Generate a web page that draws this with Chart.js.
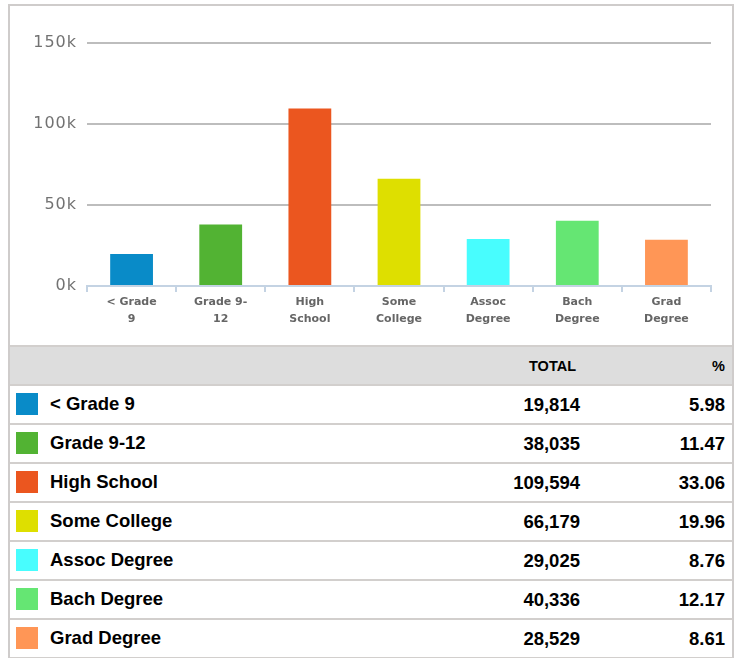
<!DOCTYPE html>
<html>
<head>
<meta charset="utf-8">
<script src="https://cdn.jsdelivr.net/npm/chart.js@4"></script>
<style>
  body { margin: 0; background: #fff; }
  #panel {
    position: absolute; left: 8px; top: 4px; width: 722px;
    border: 2px solid #cfcccb; border-bottom: none;
  }
  #chartBox { position: relative; width: 722px; height: 339px; }
  table { width: 722px; border-collapse: collapse; table-layout: fixed;
          font-family: "Liberation Sans", Arial, sans-serif; font-weight: bold; color: #000; }
  th { background: #dddddd; height: 37px; font-size: 14.5px; text-align: right;
       border-top: 2px solid #d2cfcd; border-bottom: 2px solid #d2cfcd; padding: 0; }
  td { height: 37px; font-size: 18.5px; border-bottom: 2px solid #d2cfcd; padding: 0; }
  td.num { text-align: right; }
  .sw { display: inline-block; width: 22px; height: 22px; vertical-align: middle;
        margin: 0 12px 0 6px; position: relative; top: -1px; }
</style>
</head>
<body>
<div id="panel">
  <div id="chartBox"><canvas id="chart"></canvas></div>
  <table id="tbl">
    <colgroup><col style="width:420px"><col style="width:150px"><col style="width:152px"></colgroup>
    <thead><tr><th></th><th style="padding-right:4px">TOTAL</th><th style="padding-right:7px">%</th></tr></thead>
    <tbody></tbody>
  </table>
</div>
<script>
// data
const categories = ['< Grade 9', 'Grade 9-12', 'High School', 'Some College', 'Assoc Degree', 'Bach Degree', 'Grad Degree'];
const axisLabels = [['< Grade', '9'], ['Grade 9-', '12'], ['High', 'School'], ['Some', 'College'], ['Assoc', 'Degree'], ['Bach', 'Degree'], ['Grad', 'Degree']];
const totals = [19814, 38035, 109594, 66179, 29025, 40336, 28529];
const percents = [5.98, 11.47, 33.06, 19.96, 8.76, 12.17, 8.61];
const barColors = ['#098bc8', '#52b333', '#eb561f', '#dedf00', '#48fdfe', '#65e673', '#ff9656'];
const yTicks = [0, 50000, 100000, 150000];

// table under the chart
const tbody = document.querySelector('#tbl tbody');
categories.forEach((name, i) => {
  const tr = document.createElement('tr');
  tr.innerHTML = '<td><span class="sw" style="background:' + barColors[i] + '"></span></td>' +
    '<td class="num">' + totals[i].toLocaleString('en-US') + '</td>' +
    '<td class="num" style="padding-right:7px">' + percents[i].toFixed(2) + '</td>';
  tr.firstChild.appendChild(document.createTextNode(name));
  tbody.appendChild(tr);
});

const ctx = document.getElementById('chart').getContext('2d');
const chart = new Chart(ctx, {
  type: 'bar',
  data: {
    labels: axisLabels,
    datasets: [{
      data: totals,
      backgroundColor: barColors,
      barPercentage: 0.48,
      categoryPercentage: 1
    }]
  },
  options: {
    responsive: true,
    maintainAspectRatio: false,
    animation: false,
    layout: { padding: { top: 37, right: 21, left: 0, bottom: 0 } },
    plugins: { legend: { display: false }, tooltip: { enabled: false } },
    scales: {
      x: {
        afterFit: (s) => { s.height = 59; },
        border: { color: '#c4d3e3', width: 2 },
        grid: { drawOnChartArea: false, color: '#c4d3e3', lineWidth: 2, tickLength: 6 },
        ticks: {
          color: '#666',
          font: { family: 'DejaVu Sans', size: 11, weight: 'bold', lineHeight: 1.6 },
          padding: 1,
          maxRotation: 0,
          autoSkip: false
        }
      },
      y: {
        min: 0,
        max: 150000,
        afterFit: (s) => { s.width = 77; },
        afterBuildTicks: (s) => { s.ticks = yTicks.map(v => ({ value: v })); },
        border: { display: false },
        grid: {
          drawTicks: false,
          lineWidth: 2,
          color: (c) => c.tick && c.tick.value === 0 ? 'rgba(0,0,0,0)' : '#bdbdbd'
        },
        ticks: {
          color: '#727272',
          font: { family: 'DejaVu Sans', size: 16 },
          padding: 10,
          callback: (v) => (v / 1000) + 'k'
        }
      }
    }
  }
});

// y labels in the reference are letter-spaced
const y = chart.scales.y;
const origLabels = y.drawLabels;
y.drawLabels = function (area) {
  const c = this.ctx;
  c.save();
  c.letterSpacing = '1px';
  origLabels.call(this, area);
  c.restore();
};
chart.draw();
</script>
</body>
</html>
